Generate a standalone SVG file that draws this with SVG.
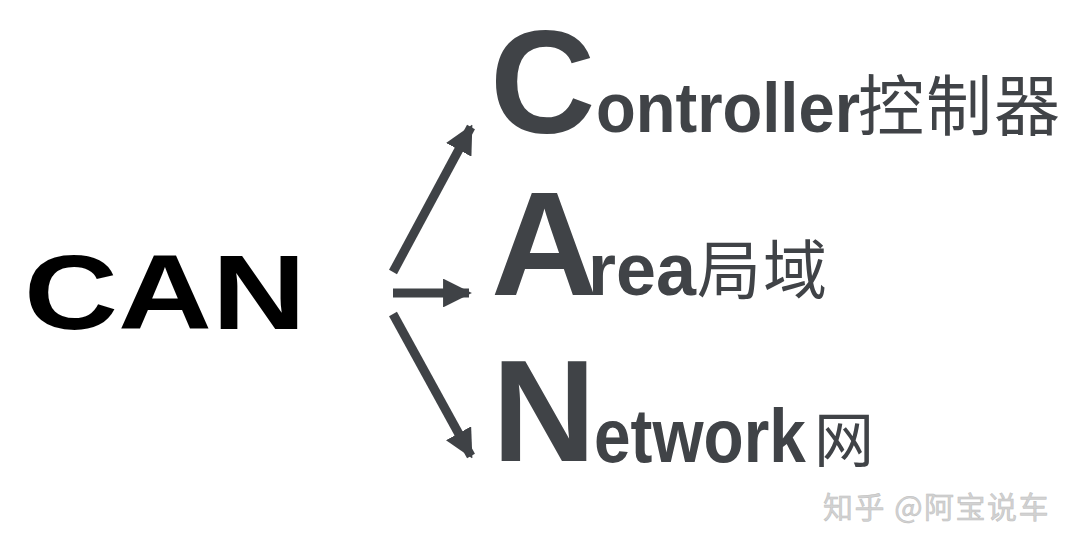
<svg xmlns="http://www.w3.org/2000/svg" width="1080" height="550" viewBox="0 0 1080 550">
<style>
.lat{font-family:"Liberation Sans",Arial,sans-serif;font-weight:bold;fill:#404347}
.cjk{font-family:"Noto Sans CJK SC",sans-serif;font-weight:normal;fill:#404347}
.arr{stroke:#3f4246;stroke-width:9;fill:none;marker-end:url(#ah)}
</style>
<defs>
<marker id="ah" viewBox="0 0 10 10" refX="9" refY="5" markerWidth="3.2" markerHeight="3.2" orient="auto" markerUnits="strokeWidth">
<path d="M0,0 L10,5 L0,10 Z" fill="#3f4246"/>
</marker>
</defs>
<rect width="1080" height="550" fill="#ffffff"/>
<g id="can">
<text x="24" y="329" font-family="Liberation Sans,Arial,sans-serif" font-weight="bold" font-size="106" fill="#000" textLength="282" lengthAdjust="spacingAndGlyphs">CAN</text>
</g>
<g id="connectors">
<line class="arr" x1="393" y1="272" x2="471" y2="127"/>
<line class="arr" x1="393" y1="293" x2="469" y2="293"/>
<line class="arr" x1="393" y1="314" x2="471" y2="456"/>
</g>
<g id="controller">
<text class="lat" x="490" y="133" font-size="146">C</text>
<text class="lat" x="596" y="132" font-size="70" textLength="264" lengthAdjust="spacingAndGlyphs">ontroller</text>
<text class="cjk" x="858" y="130" font-size="66" letter-spacing="2">控制器</text>
</g>
<g id="area">
<text class="lat" x="491" y="295" font-size="148">A</text>
<text class="lat" x="588" y="295" font-size="74" textLength="108" lengthAdjust="spacingAndGlyphs">rea</text>
<text class="cjk" x="697" y="293" font-size="64" letter-spacing="2">局域</text>
</g>
<g id="network">
<text class="lat" x="492" y="461" font-size="144">N</text>
<text class="lat" transform="translate(594,462) scale(0.865,1)" x="0" y="0" font-size="76">etwork</text>
<text class="cjk" x="814" y="462" font-size="60">网</text>
</g>
<g id="watermark">
<text x="823" y="518" font-family="Noto Sans CJK SC,sans-serif" font-size="30" letter-spacing="1.5" fill="#d2d2d2" stroke="#bdbdbd" stroke-width="0.5">知乎 @阿宝说车</text>
</g>
</svg>
